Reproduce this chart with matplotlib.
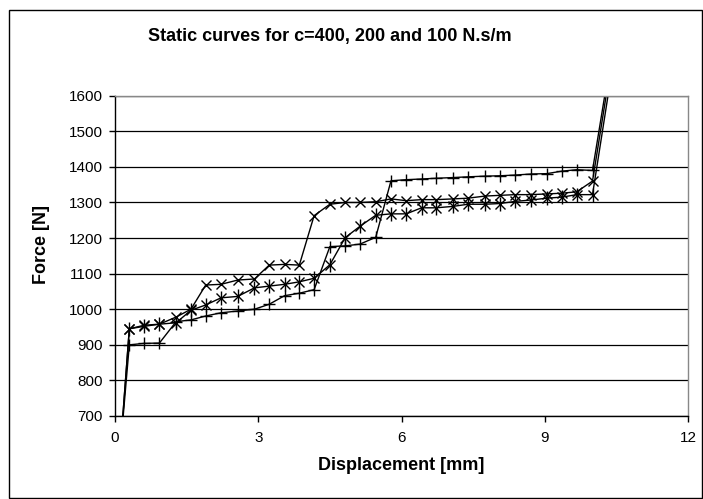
import matplotlib.pyplot as plt
import matplotlib.patches as patches
import numpy as np

# shared displacement positions (mm)
disp = [0.12, 0.30, 0.61, 0.93, 1.28, 1.59, 1.90, 2.22, 2.57, 2.92, 3.23,
        3.55, 3.86, 4.17, 4.50, 4.82, 5.13, 5.46, 5.78, 6.10, 6.42, 6.73,
        7.08, 7.39, 7.75, 8.06, 8.38, 8.72, 9.04, 9.36, 9.67, 10.00, 10.50]

# force (N) for each curve
force_plus = [620, 900, 904, 905, 965, 970, 981, 990, 995, 1000, 1014,
              1038, 1045, 1055, 1176, 1178, 1183, 1202, 1361, 1364, 1366, 1368,
              1370, 1372, 1374, 1375, 1377, 1380, 1381, 1388, 1392, 1390, 1800]
force_cross = [620, 945, 955, 958, 978, 1000, 1068, 1070, 1082, 1085, 1124,
               1126, 1124, 1263, 1295, 1300, 1300, 1302, 1310, 1305, 1308, 1308,
               1310, 1312, 1318, 1320, 1322, 1322, 1324, 1326, 1330, 1360, 1780]
force_star = [620, 945, 952, 958, 962, 997, 1012, 1032, 1036, 1060, 1065,
              1070, 1077, 1087, 1125, 1201, 1233, 1264, 1268, 1268, 1285, 1285,
              1289, 1295, 1295, 1297, 1303, 1307, 1312, 1315, 1322, 1322, 1750]

x_ticks = [0, 3, 6, 9, 12]
y_ticks = list(range(700, 1601, 100))

plt.rcParams['font.family'] = ['Liberation Sans', 'DejaVu Sans']

W, H = 703, 499
fig = plt.figure(figsize=(W / 100, H / 100), dpi=100)
ax = fig.add_axes([115 / W, 1 - 416 / H, (688 - 115) / W, (416 - 95.7) / H])

# outer chart border
fig.patches.append(patches.Rectangle((9 / W, 1 / H), (W - 10) / W, (H - 11) / H,
                                     transform=fig.transFigure, fill=False,
                                     edgecolor='black', linewidth=1))

ms = 8
ax.plot(disp, force_plus, color='black', lw=1, marker='+', ms=ms, mew=1)
ax.plot(disp, force_cross, color='black', lw=1, marker='x', ms=ms * 0.9, mew=1)
ax.plot(disp, force_star, color='black', lw=1, marker='x', ms=ms * 0.9, mew=1)
ax.plot(disp, force_star, color='black', lw=0, marker='|', ms=ms * 1.2, mew=1)

ax.set_xlim(0, 12)
ax.set_ylim(700, 1600)
ax.set_xticks(x_ticks)
ax.set_yticks(y_ticks)
ax.grid(True, axis='y', color='black', linewidth=0.9)
ax.set_axisbelow(True)

ax.spines['top'].set_color('#888888')
ax.spines['right'].set_color('#888888')
for s in ax.spines.values():
    s.set_linewidth(1)

ax.tick_params(axis='both', direction='out', length=4, width=1, labelsize=11)
ax.tick_params(axis='y', pad=5)
ax.tick_params(axis='x', pad=7)

fig.text(329.5 / W, 1 - 36 / H, 'Static curves for c=400, 200 and 100 N.s/m',
         ha='center', va='center', fontsize=13, fontweight='bold')
fig.text(401 / W, 1 - 466 / H, 'Displacement [mm]', ha='center', va='center',
         fontsize=13, fontweight='bold')
fig.text(42 / W, 1 - 245 / H, 'Force [N]', ha='center', va='center',
         rotation=90, fontsize=13, fontweight='bold')

plt.savefig('out.png', dpi=100)
